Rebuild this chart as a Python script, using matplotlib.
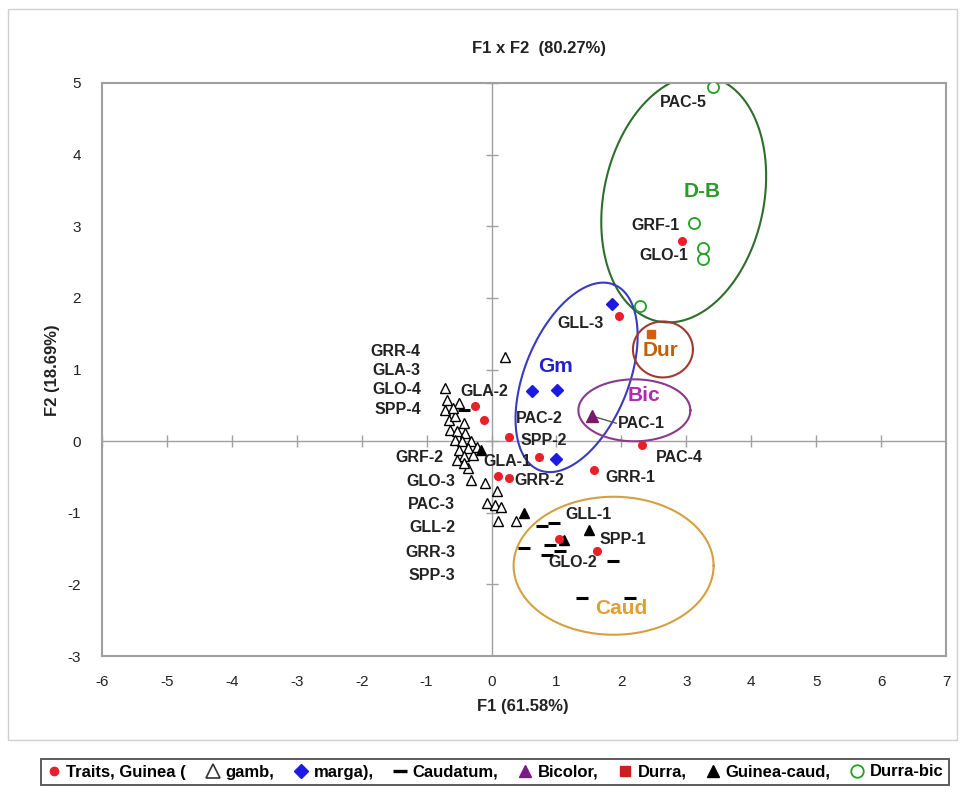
import numpy as np
import matplotlib
matplotlib.use("Agg")
import matplotlib.pyplot as plt
from matplotlib.lines import Line2D
from matplotlib.patches import Rectangle

plt.rcParams['font.family'] = ['Liberation Sans', 'DejaVu Sans']
plt.rcParams['axes.unicode_minus'] = False

# ---------------- data ----------------
traits_x = [2.93, 1.96, 2.32, -0.25, -0.12, 0.27, 0.73, 0.10, 0.27, 1.58, 1.04, 1.63]
traits_y = [2.80, 1.74, -0.06, 0.49, 0.30, 0.06, -0.22, -0.49, -0.51, -0.40, -1.37, -1.54]

gamb_x = [0.20, -0.71, -0.68, -0.50, -0.71, -0.66, -0.56, -0.43, -0.64, -0.53, -0.41,
          -0.56, -0.46, -0.32, -0.50, -0.37, -0.43, -0.53, -0.37, -0.43, -0.32, -0.10,
          0.08, -0.07, 0.06, 0.15, 0.10, 0.38, -0.28, -0.22, -0.60]
gamb_y = [1.17, 0.74, 0.58, 0.53, 0.44, 0.30, 0.35, 0.25, 0.16, 0.14, 0.11,
          0.02, 0.00, 0.00, -0.12, -0.10, -0.21, -0.26, -0.37, -0.30, -0.54, -0.58,
          -0.69, -0.86, -0.89, -0.92, -1.11, -1.12, -0.20, -0.08, 0.46]

marga_x = [1.86, 0.62, 1.01, 0.99]
marga_y = [1.92, 0.70, 0.72, -0.25]

caud_x = [0.78, 0.96, 0.50, 0.90, 1.05, 0.86, 1.87, 1.40, 2.14, -0.43]
caud_y = [-1.18, -1.14, -1.49, -1.45, -1.53, -1.59, -1.67, -2.19, -2.19, 0.44]

bicolor_x = [1.55]
bicolor_y = [0.35]

durra_x = [2.45]
durra_y = [1.49]

gcaud_x = [0.50, 1.50, 1.12, -0.17]
gcaud_y = [-1.00, -1.24, -1.38, -0.12]

dbic_x = [3.41, 3.12, 3.25, 3.25, 2.28]
dbic_y = [4.94, 3.05, 2.69, 2.54, 1.89]

xticks = list(range(-6, 8))
yticks = list(range(-3, 6))

# point labels: (text, x, y, ha)
labels = [
    ("PAC-5", 2.59, 4.73, 'left'), ("GRF-1", 2.16, 3.01, 'left'), ("GLO-1", 2.28, 2.59, 'left'),
    ("GLL-3", 1.02, 1.64, 'left'), ("PAC-1", 1.94, 0.24, 'left'), ("GLA-2", -0.48, 0.69, 'left'),
    ("PAC-2", 0.37, 0.31, 'left'), ("SPP-2", 0.45, 0.01, 'left'), ("PAC-4", 2.53, -0.23, 'left'),
    ("GLA-1", -0.12, -0.29, 'left'), ("GRR-1", 1.76, -0.51, 'left'), ("GRR-2", 0.35, -0.55, 'left'),
    ("GLL-1", 1.14, -1.03, 'left'), ("SPP-1", 1.67, -1.38, 'left'), ("GLO-2", 0.88, -1.70, 'left'),
    ("GRR-4", -1.09, 1.25, 'right'), ("GLA-3", -1.09, 0.99, 'right'), ("GLO-4", -1.09, 0.72, 'right'),
    ("SPP-4", -1.09, 0.44, 'right'), ("GRF-2", -0.74, -0.23, 'right'),
    ("GLO-3", -0.56, -0.57, 'right'), ("PAC-3", -0.56, -0.89, 'right'), ("GLL-2", -0.56, -1.21, 'right'),
    ("GRR-3", -0.56, -1.55, 'right'), ("SPP-3", -0.56, -1.87, 'right'),
]

# group labels: (text, x, y, colour)
groups = [("D-B", 2.96, 3.49, '#2a9a2a'), ("Gm", 0.71, 1.04, '#2222cc'),
          ("Dur", 2.33, 1.27, '#c0600a'), ("Bic", 2.10, 0.64, '#b02ab0'),
          ("Caud", 1.59, -2.33, '#e0a030')]
# ellipses: centre (data), semi-axes (px), angle (deg, display), colour
ellipses = [((2.96, 3.38), 125, 80, 78, '#2d6e2d'),
            ((1.31, 0.89), 100, 52, 68, '#3a3ac0'),
            ((2.64, 1.28), 30, 28, 0, '#a03a30'),
            ((2.20, 0.43), 56, 31, 0, '#8a3a8a'),
            ((1.88, -1.74), 100, 69, 0, '#d4a040')]

# ---------------- figure ----------------
W, H = 961, 794
fig = plt.figure(figsize=(W / 100, H / 100), dpi=100)
L, R, T, B = 102, 946, 83, 656
ax = fig.add_axes([L / W, 1 - B / H, (R - L) / W, (B - T) / H])
ax.set_xlim(-6, 7)
ax.set_ylim(-3, 5)
for s in ax.spines.values():
    s.set_color('#a0a0a0')
    s.set_linewidth(1.5)

ax.set_xticks(xticks)
ax.set_yticks(yticks)
ax.tick_params(length=0, labelsize=11, colors='#222222')
ax.tick_params(axis='x', pad=14)
ax.tick_params(axis='y', pad=15)

# zero lines with crossing ticks
ax.axhline(0, color='#a0a0a0', lw=1.0, zorder=1)
ax.axvline(0, color='#a0a0a0', lw=1.0, zorder=1)
ax.plot(xticks, [0] * len(xticks), ls='none', marker='|', ms=8, mew=1.0, color='#a0a0a0', zorder=1)
ax.plot([0] * len(yticks), yticks, ls='none', marker='_', ms=8, mew=1.0, color='#a0a0a0', zorder=1)

# ellipses
pxx = 13 / (R - L)
pxy = 8 / (B - T)
t = np.linspace(0, 2 * np.pi, 300)
for (cx, cy), a, b, ang, col in ellipses:
    ph = np.deg2rad(ang)
    u = a * np.cos(t)
    v = b * np.sin(t)
    dx = u * np.cos(ph) - v * np.sin(ph)
    dy = u * np.sin(ph) + v * np.cos(ph)
    ax.plot(cx + dx * pxx, cy + dy * pxy, color=col, lw=1.5, zorder=2)

# leader line PAC-1
ax.plot([bicolor_x[0], 1.92], [bicolor_y[0], 0.25], color='#555555', lw=1.0, zorder=2)

# points
ax.plot(gamb_x, gamb_y, ls='none', marker='^', ms=7.5, mfc='white', mec='black', mew=1.0, zorder=3)
ax.plot(caud_x, caud_y, ls='none', marker='_', ms=9, mew=2.2, color='black', zorder=4)
ax.plot(marga_x, marga_y, ls='none', marker='D', ms=6.5, color='#1a1ae0', zorder=4)
ax.plot(bicolor_x, bicolor_y, ls='none', marker='^', ms=8, color='#7a1a6a', zorder=4)
ax.plot(durra_x, durra_y, ls='none', marker='s', ms=6, color='#d06010', zorder=4)
ax.plot(gcaud_x, gcaud_y, ls='none', marker='^', ms=7.5, color='black', zorder=4)
ax.plot(dbic_x, dbic_y, ls='none', marker='o', ms=8, mfc='white', mec='#22a022', mew=1.3, zorder=4)
ax.plot(traits_x, traits_y, ls='none', marker='o', ms=5.5, color='#e8202a', mec='#e8202a', zorder=5)

for txt, x, y, ha in labels:
    ax.text(x, y, txt, ha=ha, va='center', fontsize=11.5, fontweight='bold', color='#222222', zorder=6)
for txt, x, y, col in groups:
    ax.text(x, y, txt, ha='left', va='center', fontsize=15, fontweight='bold', color=col, zorder=6)

fig.text((L + R) / 2 / W + 0.016, 1 - 49 / H, "F1 x F2  (80.27%)", ha='center', va='center',
         fontsize=12, fontweight='bold', color='#222222')
fig.text(523 / W, 1 - 706 / H, "F1 (61.58%)", ha='center', va='center',
         fontsize=12, fontweight='bold', color='#222222')
fig.text(52 / W, 1 - 370 / H, "F2 (18.69%)", ha='center', va='center', rotation=90,
         fontsize=12, fontweight='bold', color='#222222')

# chart border
fig.add_artist(Rectangle((8 / W, 1 - 740 / H), 949 / W, 731 / H, transform=fig.transFigure,
                         fill=False, ec='#d0d0d0', lw=1.0))

# legend
handles = [
    Line2D([], [], ls='none', marker='o', ms=6, color='#e8202a'),
    Line2D([], [], ls='none', marker='^', ms=10, mfc='white', mec='#333333', mew=1.2),
    Line2D([], [], ls='none', marker='D', ms=7.5, color='#1a1ae0'),
    Line2D([], [], ls='none', marker='_', ms=10, mew=2.4, color='black'),
    Line2D([], [], ls='none', marker='^', ms=9, color='#7a1a8a'),
    Line2D([], [], ls='none', marker='s', ms=7, color='#cc2020'),
    Line2D([], [], ls='none', marker='^', ms=9, color='black'),
    Line2D([], [], ls='none', marker='o', ms=9, mfc='white', mec='#22a022', mew=1.3),
]
texts = ["Traits, Guinea (", "gamb,", "marga),", "Caudatum,", "Bicolor,", "Durra,",
         "Guinea-caud,", "Durra-bic"]
leg = fig.legend(handles, texts, loc='center', bbox_to_anchor=(495 / W, 1 - 772 / H), ncol=8,
                 frameon=True, fancybox=False, shadow=False, handlelength=0.9,
                 handletextpad=0.3, columnspacing=1.15, borderpad=0.35,
                 prop={'weight': 'bold', 'size': 12})
leg.get_frame().set_edgecolor('#333333')
leg.get_frame().set_linewidth(1.4)

fig.savefig('out.png', dpi=100)
